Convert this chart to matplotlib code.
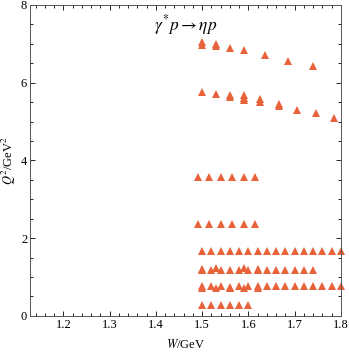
import numpy as np
import matplotlib.pyplot as plt
from matplotlib.ticker import MultipleLocator

plt.rcParams['font.family'] = ['Liberation Serif', 'DejaVu Serif']
plt.rcParams['mathtext.fontset'] = 'stix'

# kinematic points (W in GeV, Q^2 in GeV^2)
W_q7 = [1.50, 1.50, 1.53, 1.53, 1.56, 1.59, 1.635, 1.685, 1.74]
Q_q7 = [7.05, 6.98, 7.00, 6.95, 6.90, 6.84, 6.71, 6.57, 6.43]

W_q57 = [1.50, 1.53, 1.56, 1.56, 1.59, 1.59, 1.59, 1.625, 1.625, 1.665, 1.665, 1.705, 1.745, 1.785]
Q_q57 = [5.77, 5.72, 5.68, 5.64, 5.68, 5.60, 5.55, 5.58, 5.50, 5.45, 5.40, 5.31, 5.21, 5.10]

W_q36 = [1.49, 1.515, 1.54, 1.565, 1.59, 1.615]
Q_q36 = [3.57] * 6
W_q24 = [1.49, 1.515, 1.54, 1.565, 1.59, 1.615]
Q_q24 = [2.37] * 6

W_q165 = [1.50, 1.52, 1.54, 1.56, 1.58, 1.60, 1.62, 1.64, 1.66, 1.68, 1.70, 1.72, 1.74, 1.76, 1.78, 1.80]
Q_q165 = [1.67] * 16

W_q12 = [1.50, 1.50, 1.52, 1.53, 1.54, 1.56, 1.58, 1.59, 1.60, 1.62, 1.62, 1.64, 1.66, 1.68, 1.70, 1.72, 1.74]
Q_q12 = [1.18, 1.22, 1.18, 1.23, 1.18, 1.19, 1.18, 1.23, 1.18, 1.18, 1.22, 1.18, 1.18, 1.18, 1.18, 1.18, 1.18]

W_q075 = [1.50, 1.50, 1.52, 1.53, 1.54, 1.56, 1.56, 1.58, 1.59, 1.60, 1.62, 1.62,
          1.64, 1.66, 1.68, 1.70, 1.72, 1.74, 1.76, 1.78, 1.80]
Q_q075 = [0.76, 0.72, 0.76, 0.71, 0.76, 0.75, 0.72, 0.76, 0.71, 0.76, 0.76, 0.72,
          0.76, 0.76, 0.76, 0.76, 0.76, 0.76, 0.76, 0.76, 0.76]

W_q03 = [1.50, 1.52, 1.54, 1.56, 1.58, 1.60]
Q_q03 = [0.28] * 6

col = '#E8623A'

fig = plt.figure(figsize=(3.49, 3.53), dpi=100)
ax = fig.add_axes([0.086, 0.105, 0.891, 0.881])

for w, q in [(W_q7, Q_q7), (W_q57, Q_q57), (W_q36, Q_q36), (W_q24, Q_q24),
             (W_q165, Q_q165), (W_q12, Q_q12), (W_q075, Q_q075), (W_q03, Q_q03)]:
    ax.plot(w, q, '^', color=col, markersize=5.6, markeredgewidth=0, clip_on=False)

ax.set_xlim(1.128, 1.8)
ax.set_ylim(0, 8)
ax.xaxis.set_major_locator(MultipleLocator(0.1))
ax.xaxis.set_minor_locator(MultipleLocator(0.02))
ax.yaxis.set_major_locator(MultipleLocator(2))
ax.yaxis.set_minor_locator(MultipleLocator(0.5))
ax.tick_params(which='both', direction='in', top=True, right=True, labelsize=9,
               color='#222222', width=0.7, pad=2)
ax.tick_params(which='major', length=3.5)
ax.tick_params(which='minor', length=2)
for s in ax.spines.values():
    s.set_linewidth(0.7)
    s.set_color('#555555')

ax.set_xlabel(r'$W$/GeV', fontsize=9, labelpad=5)
ax.set_ylabel(r'$Q^2$/GeV$^2$', fontsize=9, labelpad=2)
ax.text(0.5, 0.935, r'$\gamma^{*}p \rightarrow \eta p$', transform=ax.transAxes,
        ha='center', va='center', fontsize=12.5)

fig.savefig('out.png', dpi=100)
